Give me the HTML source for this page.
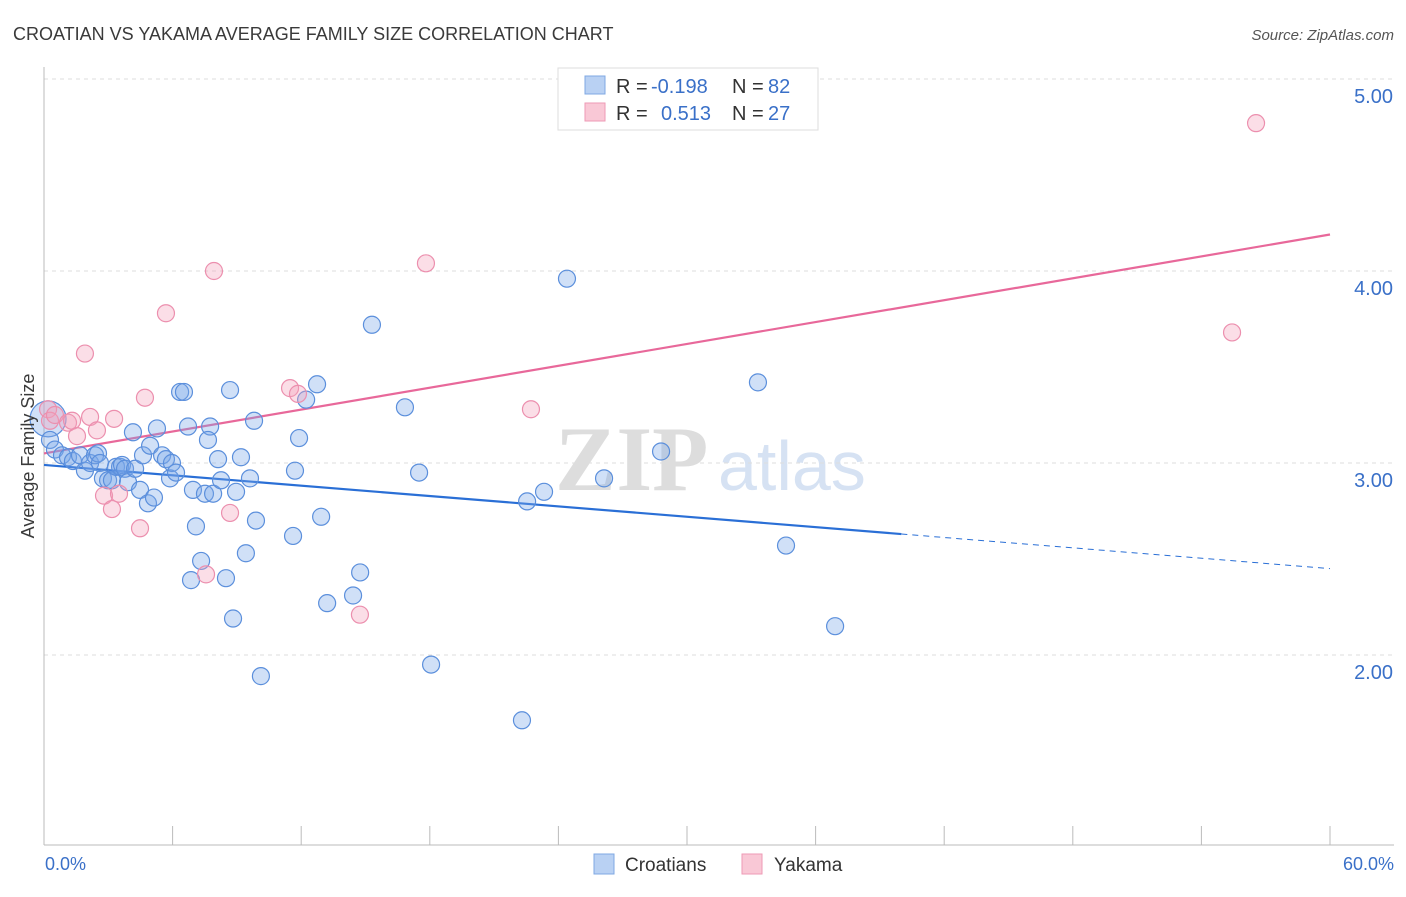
<!DOCTYPE html>
<html><head><meta charset="utf-8"><style>
body{margin:0;background:#fff;font-family:"Liberation Sans",sans-serif;}
</style></head><body>
<svg id="chart" width="1406" height="892" xmlns="http://www.w3.org/2000/svg" font-family="Liberation Sans, sans-serif">
<text x="13" y="40" font-size="18" fill="#3a3a3a">CROATIAN VS YAKAMA AVERAGE FAMILY SIZE CORRELATION CHART</text>
<text x="1394" y="40" font-size="15" fill="#555" font-style="italic" text-anchor="end">Source: ZipAtlas.com</text>
<text x="555" y="490" font-size="92" fill="#ddd" font-family="Liberation Serif, serif" font-weight="bold">ZIP</text>
<text x="718" y="490" font-size="70" fill="#d6e2f3">atlas</text>
<g id="grid"></g><g id="axes"></g><g id="trend"></g><g id="pts"></g>
<text transform="translate(34,456) rotate(-90)" font-size="18" fill="#3a3a3a" text-anchor="middle">Average Family Size</text>
<text x="45" y="870" font-size="18" fill="#3a70c8">0.0%</text>
<text x="1394" y="870" font-size="18" fill="#3a70c8" text-anchor="end">60.0%</text>
<g>
<rect x="558" y="68" width="260" height="62" fill="#fff" stroke="#ddd"/>
<rect x="585" y="76" width="20" height="18" fill="#b9d1f3" stroke="#7fa8e3"/>
<rect x="585" y="103" width="20" height="18" fill="#f9c8d6" stroke="#ee9ab5"/>
<text x="616" y="93" font-size="20" fill="#333">R =</text>
<text x="651" y="93" font-size="20" fill="#3a70c8">-0.198</text>
<text x="732" y="93" font-size="20" fill="#333">N =</text>
<text x="768" y="93" font-size="20" fill="#3a70c8">82</text>
<text x="616" y="120" font-size="20" fill="#333">R =</text>
<text x="661" y="120" font-size="20" fill="#3a70c8">0.513</text>
<text x="732" y="120" font-size="20" fill="#333">N =</text>
<text x="768" y="120" font-size="20" fill="#3a70c8">27</text>
</g>
<g>
<rect x="594" y="854" width="20" height="20" fill="#b9d1f3" stroke="#7fa8e3"/>
<text x="625" y="871" font-size="19" fill="#333">Croatians</text>
<rect x="742" y="854" width="20" height="20" fill="#f9c8d6" stroke="#ee9ab5"/>
<text x="774" y="871" font-size="19" fill="#333">Yakama</text>
</g>
</svg>
<script>
const yTicks=[2,3,4,5];
const yTickLabels=["2.00","3.00","4.00","5.00"];
const blueX=[0.19,0.28,0.51,0.84,1.12,1.35,1.68,1.91,2.15,2.38,2.52,2.61,2.75,2.99,3.17,3.36,3.55,3.64,3.78,3.92,4.15,4.25,4.48,4.62,4.85,4.95,5.13,5.27,5.51,5.69,5.88,5.97,6.16,6.35,6.53,6.72,6.95,7.09,6.86,7.33,7.51,7.75,7.65,7.89,8.12,8.26,8.49,8.68,8.82,8.96,9.19,9.42,9.61,9.80,9.89,10.12,11.62,11.71,11.90,12.23,12.74,12.93,13.21,14.42,14.75,15.30,16.84,17.50,18.06,22.30,22.54,23.33,24.40,26.13,28.79,33.31,34.62,36.91];
const blueY=[3.23,3.12,3.07,3.04,3.03,3.01,3.04,2.96,3.00,3.04,3.05,3.00,2.92,2.91,2.91,2.98,2.98,2.99,2.97,2.90,3.16,2.97,2.86,3.04,2.79,3.09,2.82,3.18,3.04,3.02,2.92,3.00,2.95,3.37,3.37,3.19,2.86,2.67,2.39,2.49,2.84,3.19,3.12,2.84,3.02,2.91,2.40,3.38,2.19,2.85,3.03,2.53,2.92,3.22,2.70,1.89,2.62,2.96,3.13,3.33,3.41,2.72,2.27,2.31,2.43,3.72,3.29,2.95,1.95,1.66,2.80,2.85,3.96,2.92,3.06,3.42,2.57,2.15];
const pinkX=[0.19,0.28,0.51,1.12,1.31,1.54,1.91,2.15,2.47,2.80,3.17,3.27,3.50,4.48,4.71,5.69,7.56,7.93,8.68,11.48,11.85,14.74,17.82,22.72,55.43,56.55];
const pinkY=[3.28,3.22,3.25,3.21,3.22,3.14,3.57,3.24,3.17,2.83,2.76,3.23,2.84,2.66,3.34,3.78,2.42,4.00,2.74,3.39,3.36,2.21,4.04,3.28,3.68,4.77];
const blueTrend=[2.99,2.63,2.45];
const pinkTrend=[3.05,4.19];
const NS="http://www.w3.org/2000/svg";
const sx=v=>44+v*(1330-44)/60;
const sy=v=>463-(v-3)*192;
function mk(p,t,a){const e=document.createElementNS(NS,t);for(const k in a)e.setAttribute(k,a[k]);p.appendChild(e);return e;}
const grid=document.getElementById('grid'),axes=document.getElementById('axes'),trend=document.getElementById('trend'),pts=document.getElementById('pts');
yTicks.forEach((t,i)=>{
 const l=mk(grid,'line',{x1:44,x2:1394,y1:sy(t),y2:sy(t),stroke:'#ddd','stroke-dasharray':'4,4'});
 
 
 const tx=mk(grid,'text',{x:1393,y:sy(t)+24,'font-size':20,fill:'#3a70c8','text-anchor':'end'});
 tx.textContent=yTickLabels[i];
 
 
});
const ax=mk(axes,'line',{x1:44,x2:1394,y1:845,y2:845,stroke:'#bbb'});


const ay=mk(axes,'line',{x1:44,x2:44,y1:67,y2:845,stroke:'#bbb'});


for(let i=0;i<=10;i++){
 const t=mk(axes,'line',{x1:sx(i*6),x2:sx(i*6),y1:826,y2:845,stroke:'#bbb'});
 
 
}
const bl=mk(trend,'line',{x1:sx(0),y1:sy(blueTrend[0]),x2:sx(40),y2:sy(blueTrend[1]),stroke:'#2a6fd6','stroke-width':2.2});


const bd=mk(trend,'line',{x1:sx(40),y1:sy(blueTrend[1]),x2:sx(60),y2:sy(blueTrend[2]),stroke:'#2a6fd6','stroke-width':1,'stroke-dasharray':'6,5'});


const pl=mk(trend,'line',{x1:sx(0),y1:sy(pinkTrend[0]),x2:sx(60),y2:sy(pinkTrend[1]),stroke:'#e8689a','stroke-width':2.2});


blueX.forEach((x,i)=>{
 const c=mk(pts,'circle',{cx:sx(x),cy:sy(blueY[i]),r:i===0?18:8.5,fill:'rgba(120,166,232,0.35)',stroke:'#5b8fdc','stroke-width':1.2});
 
 
});
pinkX.forEach((x,i)=>{
 const c=mk(pts,'circle',{cx:sx(x),cy:sy(pinkY[i]),r:8.5,fill:'rgba(244,160,186,0.35)',stroke:'#ec8fae','stroke-width':1.2});
 
 
});
</script>
</body></html>
